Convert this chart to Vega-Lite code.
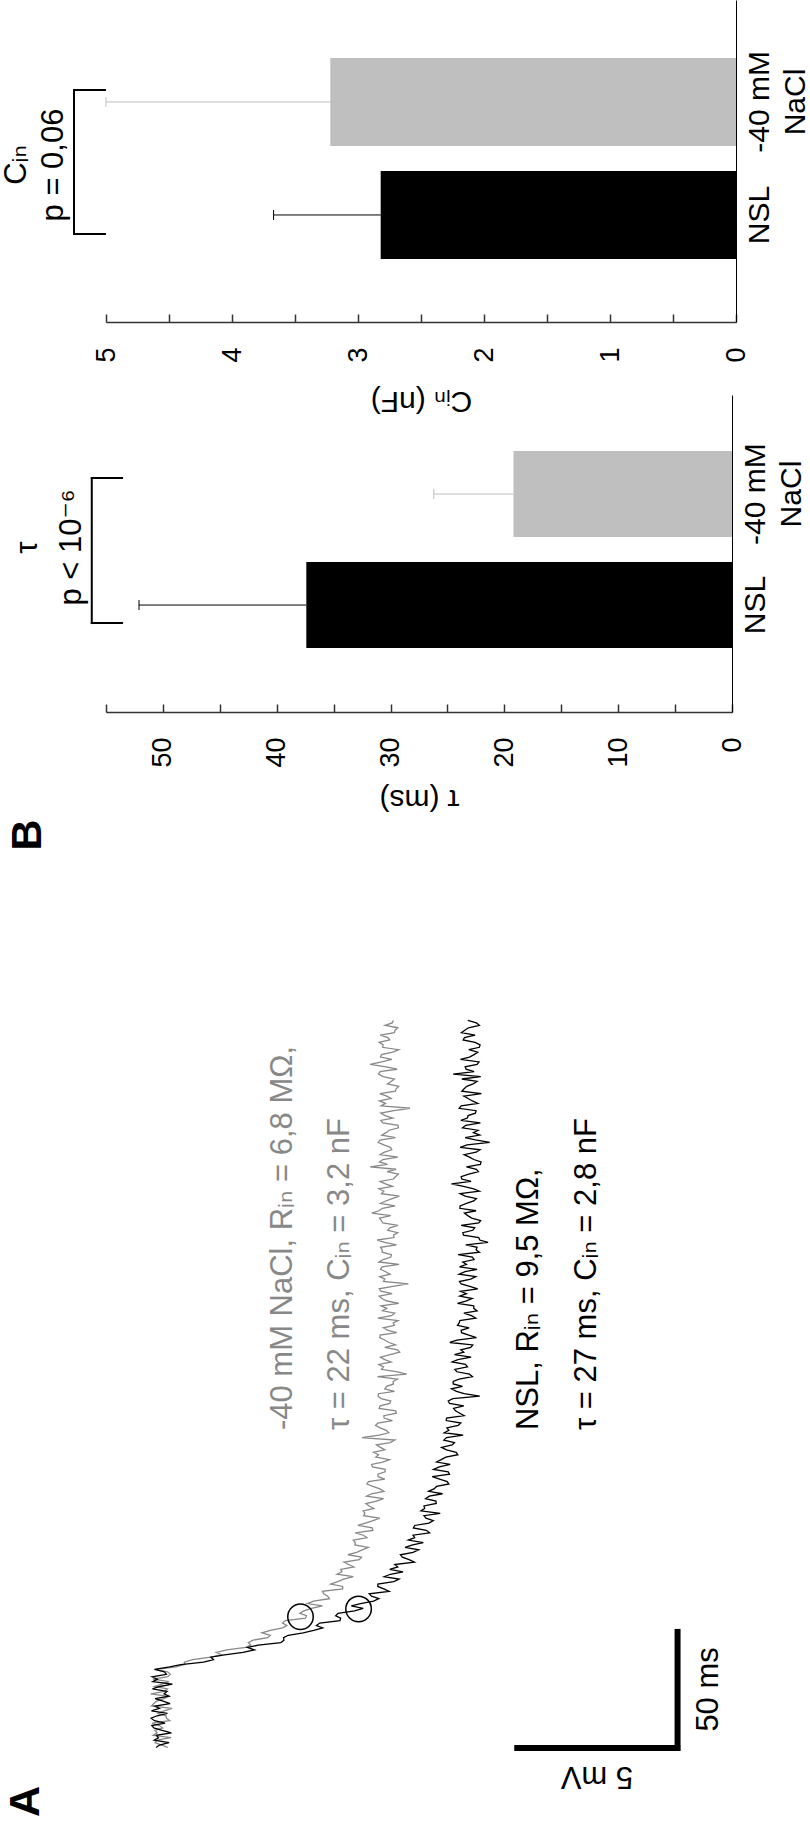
{
  "$schema": "https://vega.github.io/schema/vega-lite/v6.json",
  "background": "white",
  "padding": {"left": 0, "top": 0, "right": 0, "bottom": 0},
  "bounds": "flush",
  "spacing": 73,
  "config": {"view": {"stroke": null}, "font": "Liberation Sans", "axis": {"grid": false}},
  "datasets": {
    "traces": [
      {"t":-32,"g":0.21,"b":-0.15},{"t":-31,"g":0.02,"b":-0.05},{"t":-30,"g":-0.18,"b":0.24},{"t":-29,"g":-0.12,"b":-0.21},
      {"t":-28,"g":0.30,"b":-0.08},{"t":-27,"g":-0.24,"b":-0.14},{"t":-26,"g":-0.12,"b":0.31},{"t":-25,"g":-0.19,"b":0.03},
      {"t":-24,"g":0.05,"b":-0.22},{"t":-23,"g":-0.06,"b":-0.28},{"t":-22,"g":-0.27,"b":0.12},{"t":-21,"g":0.26,"b":-0.20},
      {"t":-20,"g":0.16,"b":-0.30},{"t":-19,"g":0.15,"b":-0.12},{"t":-18,"g":-0.09,"b":0.19},{"t":-17,"g":0.09,"b":-0.29},
      {"t":-16,"g":0.33,"b":-0.05},{"t":-15,"g":-0.29,"b":-0.19},{"t":-14,"g":-0.22,"b":0.27},{"t":-13,"g":-0.13,"b":0.06},
      {"t":-12,"g":0.08,"b":-0.18},{"t":-11,"g":0.22,"b":0.24},{"t":-10,"g":-0.31,"b":0.09},{"t":-9,"g":0.10,"b":0.18},
      {"t":-8,"g":0.19,"b":-0.26},{"t":-7,"g":-0.20,"b":-0.04},{"t":-6,"g":0.02,"b":0.34},{"t":-5,"g":0.24,"b":-0.25},
      {"t":-4,"g":-0.25,"b":-0.11},{"t":-3,"g":0.20,"b":-0.27},{"t":-2,"g":0.28,"b":0.16},{"t":-1,"g":0.19,"b":0.10},
      {"t":0,"g":-0.14,"b":-0.20},{"t":1,"g":0.45,"b":0.26},{"t":2,"g":0.71,"b":0.59},{"t":3,"g":0.70,"b":1.28},
      {"t":4,"g":0.95,"b":1.58},{"t":5,"g":1.50,"b":1.50},{"t":6,"g":1.82,"b":1.91},{"t":7,"g":1.66,"b":2.47},
      {"t":8,"g":1.98,"b":2.81},{"t":9,"g":2.55,"b":2.60},{"t":10,"g":2.70,"b":2.93},{"t":11,"g":2.63,"b":3.61},
      {"t":12,"g":2.77,"b":3.70},{"t":13,"g":3.21,"b":3.69},{"t":14,"g":3.29,"b":3.83},{"t":15,"g":3.04,"b":4.28},
      {"t":16,"g":3.29,"b":4.60},{"t":17,"g":3.66,"b":4.87},{"t":18,"g":3.79,"b":4.68},{"t":19,"g":3.66,"b":4.78},
      {"t":20,"g":3.74,"b":5.39},{"t":21,"g":4.35,"b":5.41},{"t":22,"g":4.38,"b":5.26},{"t":23,"g":4.18,"b":5.33},
      {"t":24,"g":4.30,"b":5.83},{"t":25,"g":4.53,"b":6.09},{"t":26,"g":4.86,"b":5.73},{"t":27,"g":4.41,"b":6.01},
      {"t":28,"g":4.59,"b":6.40},{"t":29,"g":5.07,"b":6.56},{"t":30,"g":5.02,"b":6.34},{"t":31,"g":4.90,"b":6.27},
      {"t":32,"g":4.86,"b":6.87},{"t":33,"g":5.47,"b":6.71},{"t":34,"g":5.47,"b":6.53},{"t":35,"g":5.11,"b":6.53},
      {"t":36,"g":5.32,"b":7.01},{"t":37,"g":5.50,"b":7.17},{"t":38,"g":5.79,"b":6.72},{"t":39,"g":5.30,"b":6.91},
      {"t":40,"g":5.45,"b":7.29},{"t":41,"g":5.41,"b":6.89},{"t":42,"g":5.81,"b":7.13},{"t":43,"g":5.65,"b":7.04},
      {"t":44,"g":5.51,"b":7.63},{"t":45,"g":5.97,"b":7.47},{"t":46,"g":6.04,"b":7.27},{"t":47,"g":5.63,"b":7.21},
      {"t":48,"g":5.89,"b":7.59},{"t":49,"g":6.06,"b":7.76},{"t":50,"g":6.24,"b":7.35},{"t":51,"g":5.84,"b":7.58},
      {"t":52,"g":5.85,"b":7.90},{"t":53,"g":5.79,"b":7.45},{"t":54,"g":6.20,"b":7.64},{"t":55,"g":6.09,"b":7.59},
      {"t":56,"g":5.85,"b":8.09},{"t":57,"g":6.38,"b":7.99},{"t":58,"g":6.36,"b":7.60},{"t":59,"g":5.93,"b":7.64},
      {"t":60,"g":6.15,"b":8.07},{"t":61,"g":6.39,"b":8.20},{"t":62,"g":6.59,"b":7.98},{"t":63,"g":6.10,"b":7.92},
      {"t":64,"g":6.14,"b":8.41},{"t":65,"g":6.09,"b":7.83},{"t":66,"g":6.41,"b":7.94},{"t":67,"g":6.27,"b":7.92},
      {"t":68,"g":6.17,"b":8.29},{"t":69,"g":6.49,"b":8.28},{"t":70,"g":6.70,"b":7.97},{"t":71,"g":6.19,"b":8.08},
      {"t":72,"g":6.34,"b":8.48},{"t":73,"g":6.71,"b":8.06},{"t":74,"g":6.59,"b":8.22},{"t":75,"g":6.38,"b":8.30},
      {"t":76,"g":6.20,"b":8.67},{"t":77,"g":6.25,"b":8.62},{"t":78,"g":6.74,"b":8.39},{"t":79,"g":6.54,"b":8.17},
      {"t":80,"g":6.53,"b":8.69},{"t":81,"g":6.75,"b":8.65},{"t":82,"g":6.75,"b":8.21},{"t":83,"g":6.37,"b":8.38},
      {"t":84,"g":6.34,"b":8.71},{"t":85,"g":6.68,"b":8.30},{"t":86,"g":6.88,"b":8.44},{"t":87,"g":6.47,"b":8.58},
      {"t":88,"g":6.55,"b":8.94},{"t":89,"g":6.40,"b":8.89},{"t":90,"g":6.74,"b":8.60},{"t":91,"g":6.61,"b":8.45},
      {"t":92,"g":6.49,"b":8.77},{"t":93,"g":6.90,"b":8.84},{"t":94,"g":7.04,"b":8.52},{"t":95,"g":6.05,"b":8.60},
      {"t":96,"g":6.57,"b":9.10},{"t":97,"g":6.86,"b":8.53},{"t":98,"g":6.78,"b":8.67},{"t":99,"g":6.60,"b":8.61},
      {"t":100,"g":6.46,"b":8.95},{"t":101,"g":6.53,"b":9.03},{"t":102,"g":6.97,"b":8.59},{"t":103,"g":6.72,"b":8.60},
      {"t":104,"g":6.71,"b":9.13},{"t":105,"g":7.09,"b":9.00},{"t":106,"g":7.07,"b":8.87},{"t":107,"g":6.57,"b":8.81},
      {"t":108,"g":6.60,"b":9.12},{"t":109,"g":6.89,"b":8.69},{"t":110,"g":6.92,"b":8.65},{"t":111,"g":6.63,"b":8.79},
      {"t":112,"g":6.54,"b":9.60},{"t":113,"g":6.55,"b":9.13},{"t":114,"g":7.03,"b":8.90},{"t":115,"g":6.74,"b":8.75},
      {"t":116,"g":6.80,"b":9.08},{"t":117,"g":7.00,"b":8.80},{"t":118,"g":6.99,"b":8.80},{"t":119,"g":7.12,"b":8.98},
      {"t":120,"g":6.52,"b":9.38},{"t":121,"g":7.40,"b":9.29},{"t":122,"g":7.12,"b":8.91},{"t":123,"g":6.64,"b":8.85},
      {"t":124,"g":6.70,"b":9.23},{"t":125,"g":6.56,"b":9.17},{"t":126,"g":6.93,"b":8.77},{"t":127,"g":6.74,"b":8.94},
      {"t":128,"g":6.61,"b":9.34},{"t":129,"g":6.90,"b":8.84},{"t":130,"g":7.19,"b":9.12},{"t":131,"g":7.12,"b":9.03},
      {"t":132,"g":6.74,"b":9.33},{"t":133,"g":7.06,"b":9.39},{"t":134,"g":6.87,"b":8.70},{"t":135,"g":6.73,"b":8.91},
      {"t":136,"g":6.59,"b":9.50},{"t":137,"g":6.60,"b":9.27},{"t":138,"g":7.10,"b":9.05},{"t":139,"g":6.84,"b":9.04},
      {"t":140,"g":6.70,"b":9.28},{"t":141,"g":7.03,"b":8.93},{"t":142,"g":6.99,"b":8.98},{"t":143,"g":7.14,"b":9.00},
      {"t":144,"g":6.53,"b":9.48},{"t":145,"g":6.94,"b":9.35},{"t":146,"g":7.04,"b":9.12},{"t":147,"g":6.67,"b":9.52},
      {"t":148,"g":6.80,"b":9.42},{"t":149,"g":6.63,"b":9.42},{"t":150,"g":7.16,"b":8.93},{"t":151,"g":6.81,"b":9.18},
      {"t":152,"g":6.65,"b":9.37},{"t":153,"g":6.57,"b":9.00},{"t":154,"g":6.96,"b":9.20},{"t":155,"g":6.62,"b":9.02},
      {"t":156,"g":6.57,"b":9.54},{"t":157,"g":6.98,"b":9.30},{"t":158,"g":7.45,"b":9.04},{"t":159,"g":6.70,"b":8.99},
      {"t":160,"g":6.74,"b":9.33},{"t":161,"g":6.59,"b":9.48},{"t":162,"g":6.90,"b":8.98},{"t":163,"g":6.77,"b":9.16},
      {"t":164,"g":6.61,"b":9.52},{"t":165,"g":6.66,"b":8.99},{"t":166,"g":7.17,"b":9.20},{"t":167,"g":6.56,"b":9.09},
      {"t":168,"g":6.69,"b":9.43},{"t":169,"g":6.92,"b":9.38},{"t":170,"g":6.94,"b":8.95},{"t":171,"g":6.66,"b":9.59},
      {"t":172,"g":6.66,"b":9.49},{"t":173,"g":6.61,"b":9.52},{"t":174,"g":7.09,"b":9.18},{"t":175,"g":6.74,"b":9.85},
      {"t":176,"g":6.51,"b":9.60},{"t":177,"g":7.02,"b":9.57},{"t":178,"g":7.00,"b":9.11},{"t":179,"g":7.13,"b":9.09},
      {"t":180,"g":6.83,"b":9.39},{"t":181,"g":6.89,"b":9.45},{"t":182,"g":7.14,"b":9.04},{"t":183,"g":6.68,"b":9.57},
      {"t":184,"g":6.64,"b":9.63},{"t":185,"g":6.58,"b":9.36},{"t":186,"g":6.92,"b":9.24},{"t":187,"g":6.35,"b":9.14},
      {"t":188,"g":6.56,"b":9.49},{"t":189,"g":6.67,"b":9.00},{"t":190,"g":7.05,"b":9.01},{"t":191,"g":6.61,"b":9.20},
      {"t":192,"g":6.77,"b":9.42},{"t":193,"g":6.96,"b":9.50},{"t":194,"g":7.18,"b":9.16},{"t":195,"g":6.64,"b":9.01},
      {"t":196,"g":6.71,"b":9.59},{"t":197,"g":6.56,"b":9.42},{"t":198,"g":6.97,"b":9.11},{"t":199,"g":6.76,"b":8.75},
      {"t":200,"g":6.60,"b":9.34},{"t":201,"g":7.00,"b":9.06},{"t":202,"g":7.07,"b":9.04},{"t":203,"g":7.15,"b":9.27},
      {"t":204,"g":6.81,"b":9.56},{"t":205,"g":7.08,"b":9.50},{"t":206,"g":6.30,"b":9.20},{"t":207,"g":6.82,"b":9.62},
      {"t":208,"g":6.58,"b":9.64},{"t":209,"g":6.68,"b":9.42},{"t":210,"g":7.13,"b":9.29},{"t":211,"g":6.60,"b":9.13},
      {"t":212,"g":6.73,"b":9.49},{"t":213,"g":6.95,"b":9.61},{"t":214,"g":6.91,"b":9.01},{"t":215,"g":6.71,"b":9.22},
      {"t":216,"g":6.54,"b":9.90},{"t":217,"g":6.59,"b":9.47},{"t":218,"g":7.06,"b":9.16},{"t":219,"g":6.65,"b":9.60},
      {"t":220,"g":6.78,"b":9.41},{"t":221,"g":6.87,"b":9.55},{"t":222,"g":7.15,"b":9.08},{"t":223,"g":7.14,"b":9.18},
      {"t":224,"g":6.68,"b":9.62},{"t":225,"g":6.62,"b":9.03},{"t":226,"g":6.98,"b":9.23},{"t":227,"g":6.75,"b":9.25},
      {"t":228,"g":6.62,"b":9.47},{"t":229,"g":7.01,"b":9.49},{"t":230,"g":7.50,"b":8.98},{"t":231,"g":6.63,"b":9.04},
      {"t":232,"g":6.76,"b":9.54},{"t":233,"g":6.58,"b":9.38},{"t":234,"g":6.93,"b":9.25},{"t":235,"g":6.80,"b":9.12},
      {"t":236,"g":6.59,"b":9.65},{"t":237,"g":7.06,"b":9.06},{"t":238,"g":7.08,"b":9.13},{"t":239,"g":7.16,"b":9.21},
      {"t":240,"g":6.82,"b":9.40},{"t":241,"g":6.93,"b":9.52},{"t":242,"g":7.03,"b":9.06},{"t":243,"g":6.69,"b":9.63},
      {"t":244,"g":6.55,"b":8.80},{"t":245,"g":6.60,"b":9.43},{"t":246,"g":7.11,"b":9.19},{"t":247,"g":6.78,"b":9.16},
      {"t":248,"g":6.30,"b":9.52},{"t":249,"g":6.65,"b":9.58},{"t":250,"g":6.95,"b":9.02},{"t":251,"g":6.61,"b":9.29},
      {"t":252,"g":6.64,"b":9.43},{"t":253,"g":6.98,"b":9.54},{"t":254,"g":7.16,"b":9.27},{"t":255,"g":6.67,"b":9.59},
      {"t":256,"g":6.69,"b":9.61},{"t":257,"g":6.57,"b":9.46},{"t":258,"g":6.89,"b":9.10},{"t":259,"g":6.83,"b":9.14},
      {"t":260,"g":6.60,"b":9.46},{"t":261,"g":7.03,"b":9.05},{"t":262,"g":7.05,"b":9.15},{"t":263,"g":7.13,"b":9.26},
      {"t":264,"g":6.75,"b":9.59},{"t":265,"g":6.96,"b":9.50},{"t":266,"g":7.00,"b":9.24}
    ]
  },
  "vconcat": [
    {
      "width": 630,
      "height": 322,
      "data": {"values": [
        {"cond": "NSL", "mean": 2.82, "hi": 3.67},
        {"cond": "-40 mM NaCl", "mean": 3.22, "hi": 5.0}
      ]},
      "layer": [
        {
          "mark": {"type": "bar"},
          "encoding": {
            "x": {"field": "mean", "type": "quantitative", "stack": null,
              "scale": {"domain": [0, 5], "reverse": true, "nice": false, "zero": false},
              "axis": {"orient": "bottom", "values": [0, 0.5, 1, 1.5, 2, 2.5, 3, 3.5, 4, 4.5, 5],
                "labelExpr": "datum.value % 1 == 0 ? format(datum.value, 'd') : ''",
                "tickSize": -8, "tickWidth": 1.5, "tickColor": "#333333",
                "domainColor": "#333333", "domainWidth": 1.5,
                "labelAngle": 270, "labelAlign": "right", "labelBaseline": "middle", "labelPadding": 33,
                "labelFontSize": 27, "labelColor": "black", "labelOverlap": false, "labelFlush": false,
                "title": "Cᵢₙ (nF)", "titleAngle": 180, "titleBaseline": "alphabetic", "titleAlign": "center",
                "titleY": 69, "titleFontSize": 30, "titleFontWeight": "normal", "titleColor": "black",
                "titleFont": "Liberation Sans, DejaVu Sans"}},
            "y": {"field": "cond", "type": "nominal", "sort": null,
              "scale": {"domain": ["-40 mM NaCl", "NSL"], "paddingInner": 0.221, "paddingOuter": 0.535, "align": 0.479},
              "axis": {"orient": "right", "title": null, "ticks": false, "tickSize": 0,
                "domainColor": "black", "domainWidth": 1,
                "labelAngle": 270, "labelAlign": "center", "labelBaseline": "top", "labelPadding": 8,
                "labelFontSize": 30, "labelLineHeight": 36, "labelColor": "black",
                "labelExpr": "datum.value == 'NSL' ? 'NSL' : ['-40 mM', 'NaCl']"}},
            "color": {"field": "cond", "type": "nominal",
              "scale": {"domain": ["NSL", "-40 mM NaCl"], "range": ["#000000", "#bfbfbf"]}, "legend": null}
          }
        },
        {
          "mark": {"type": "rule", "strokeWidth": 1},
          "encoding": {
            "x": {"field": "mean", "type": "quantitative", "scale": {"domain": [0, 5], "reverse": true, "nice": false, "zero": false}},
            "x2": {"field": "hi"},
            "y": {"field": "cond", "type": "nominal"},
            "color": {"field": "cond", "type": "nominal", "legend": null}
          }
        },
        {
          "mark": {"type": "tick", "thickness": 1, "size": 10, "opacity": 1},
          "encoding": {
            "x": {"field": "hi", "type": "quantitative", "scale": {"domain": [0, 5], "reverse": true, "nice": false, "zero": false}},
            "y": {"field": "cond", "type": "nominal"},
            "color": {"field": "cond", "type": "nominal", "legend": null}
          }
        },
        {
          "data": {"values": [{"v": 5.254, "cond": "-40 mM NaCl", "cond2": "NSL"}]},
          "mark": {"type": "rule", "strokeWidth": 2, "color": "black", "yOffset": -12, "y2Offset": 19, "strokeCap": "square"},
          "encoding": {
            "x": {"field": "v", "type": "quantitative", "scale": {"domain": [0, 5], "reverse": true, "nice": false, "zero": false}},
            "y": {"field": "cond", "type": "nominal"},
            "y2": {"field": "cond2"}
          }
        },
        {
          "data": {"values": [{"v1": 5.008, "v2": 5.254, "cond": "-40 mM NaCl"}]},
          "mark": {"type": "rule", "strokeWidth": 2, "color": "black", "yOffset": -12, "strokeCap": "square"},
          "encoding": {
            "x": {"field": "v1", "type": "quantitative", "scale": {"domain": [0, 5], "reverse": true, "nice": false, "zero": false}},
            "x2": {"field": "v2"},
            "y": {"field": "cond", "type": "nominal"}
          }
        },
        {
          "data": {"values": [{"v1": 5.008, "v2": 5.254, "cond": "NSL"}]},
          "mark": {"type": "rule", "strokeWidth": 2, "color": "black", "yOffset": 19, "strokeCap": "square"},
          "encoding": {
            "x": {"field": "v1", "type": "quantitative", "scale": {"domain": [0, 5], "reverse": true, "nice": false, "zero": false}},
            "x2": {"field": "v2"},
            "y": {"field": "cond", "type": "nominal"}
          }
        },
        {
          "data": {"values": [{"v": 5.635, "label": "Cᵢₙ"}, {"v": 5.341, "label": "p = 0,06"}]},
          "mark": {"type": "text", "angle": 270, "align": "center", "baseline": "alphabetic", "fontSize": 31,
            "font": "Liberation Sans, DejaVu Sans", "color": "black", "yOffset": 4},
          "encoding": {
            "x": {"field": "v", "type": "quantitative", "scale": {"domain": [0, 5], "reverse": true, "nice": false, "zero": false}},
            "text": {"field": "label"}
          }
        }
      ]
    },
    {
      "width": 626,
      "height": 317,
      "data": {"values": [
        {"cond": "NSL", "mean": 37.4, "hi": 52.1},
        {"cond": "-40 mM NaCl", "mean": 19.2, "hi": 26.2}
      ]},
      "layer": [
        {
          "mark": {"type": "bar"},
          "encoding": {
            "x": {"field": "mean", "type": "quantitative", "stack": null,
              "scale": {"domain": [0, 55], "reverse": true, "nice": false, "zero": false},
              "axis": {"orient": "bottom", "values": [0, 5, 10, 15, 20, 25, 30, 35, 40, 45, 50, 55],
                "labelExpr": "datum.value % 10 == 0 ? format(datum.value, 'd') : ''",
                "tickSize": -8, "tickWidth": 1.5, "tickColor": "#333333",
                "domainColor": "#333333", "domainWidth": 1.5,
                "labelAngle": 270, "labelAlign": "right", "labelBaseline": "middle", "labelPadding": 33,
                "labelFontSize": 27, "labelColor": "black", "labelOverlap": false, "labelFlush": false,
                "title": "τ (ms)", "titleAngle": 180, "titleBaseline": "alphabetic", "titleAlign": "center",
                "titleY": 77, "titleFontSize": 30, "titleFontWeight": "normal", "titleColor": "black",
                "titleFont": "Liberation Sans, DejaVu Sans"}},
            "y": {"field": "cond", "type": "nominal", "sort": null,
              "scale": {"domain": ["-40 mM NaCl", "NSL"], "paddingInner": 0.2252, "paddingOuter": 0.5405, "align": 0.467},
              "axis": {"orient": "right", "title": null, "ticks": false, "tickSize": 0,
                "domainColor": "black", "domainWidth": 1,
                "labelAngle": 270, "labelAlign": "center", "labelBaseline": "top", "labelPadding": 8,
                "labelFontSize": 30, "labelLineHeight": 36, "labelColor": "black",
                "labelExpr": "datum.value == 'NSL' ? 'NSL' : ['-40 mM', 'NaCl']"}},
            "color": {"field": "cond", "type": "nominal",
              "scale": {"domain": ["NSL", "-40 mM NaCl"], "range": ["#000000", "#bfbfbf"]}, "legend": null}
          }
        },
        {
          "mark": {"type": "rule", "strokeWidth": 1},
          "encoding": {
            "x": {"field": "mean", "type": "quantitative", "scale": {"domain": [0, 55], "reverse": true, "nice": false, "zero": false}},
            "x2": {"field": "hi"},
            "y": {"field": "cond", "type": "nominal"},
            "color": {"field": "cond", "type": "nominal", "legend": null}
          }
        },
        {
          "mark": {"type": "tick", "thickness": 1, "size": 10, "opacity": 1},
          "encoding": {
            "x": {"field": "hi", "type": "quantitative", "scale": {"domain": [0, 55], "reverse": true, "nice": false, "zero": false}},
            "y": {"field": "cond", "type": "nominal"},
            "color": {"field": "cond", "type": "nominal", "legend": null}
          }
        },
        {
          "data": {"values": [{"v": 56.25, "cond": "-40 mM NaCl", "cond2": "NSL"}]},
          "mark": {"type": "rule", "strokeWidth": 2, "color": "black", "yOffset": -16, "y2Offset": 18, "strokeCap": "square"},
          "encoding": {
            "x": {"field": "v", "type": "quantitative", "scale": {"domain": [0, 55], "reverse": true, "nice": false, "zero": false}},
            "y": {"field": "cond", "type": "nominal"},
            "y2": {"field": "cond2"}
          }
        },
        {
          "data": {"values": [{"v1": 53.59, "v2": 56.25, "cond": "-40 mM NaCl"}]},
          "mark": {"type": "rule", "strokeWidth": 2, "color": "black", "yOffset": -16, "strokeCap": "square"},
          "encoding": {
            "x": {"field": "v1", "type": "quantitative", "scale": {"domain": [0, 55], "reverse": true, "nice": false, "zero": false}},
            "x2": {"field": "v2"},
            "y": {"field": "cond", "type": "nominal"}
          }
        },
        {
          "data": {"values": [{"v1": 53.59, "v2": 56.25, "cond": "NSL"}]},
          "mark": {"type": "rule", "strokeWidth": 2, "color": "black", "yOffset": 18, "strokeCap": "square"},
          "encoding": {
            "x": {"field": "v1", "type": "quantitative", "scale": {"domain": [0, 55], "reverse": true, "nice": false, "zero": false}},
            "x2": {"field": "v2"},
            "y": {"field": "cond", "type": "nominal"}
          }
        },
        {
          "data": {"values": [{"v": 61.06, "label": "τ"}, {"v": 57.2, "label": "p < 10⁻⁶"}]},
          "mark": {"type": "text", "angle": 270, "align": "center", "baseline": "alphabetic", "fontSize": 31,
            "font": "Liberation Sans, DejaVu Sans", "color": "black", "yOffset": -6},
          "encoding": {
            "x": {"field": "v", "type": "quantitative", "scale": {"domain": [0, 55], "reverse": true, "nice": false, "zero": false}},
            "text": {"field": "label"}
          }
        }
      ]
    },
    {
      "width": 703,
      "height": 1043,
      "layer": [
        {
          "data": {"name": "traces"},
          "mark": {"type": "line", "color": "#888888", "strokeWidth": 1.3},
          "encoding": {
            "x": {"field": "g", "type": "quantitative", "scale": {"domain": [-1.66, 19.52], "nice": false, "zero": false}, "axis": null},
            "y": {"field": "t", "type": "quantitative", "scale": {"domain": [-65, 362.5], "nice": false, "zero": false}, "axis": null},
            "order": {"field": "t", "type": "quantitative"}
          }
        },
        {
          "data": {"name": "traces"},
          "mark": {"type": "line", "color": "#000000", "strokeWidth": 1.3},
          "encoding": {
            "x": {"field": "b", "type": "quantitative", "scale": {"domain": [-1.66, 19.52], "nice": false, "zero": false}, "axis": null},
            "y": {"field": "t", "type": "quantitative", "scale": {"domain": [-65, 362.5], "nice": false, "zero": false}, "axis": null},
            "order": {"field": "t", "type": "quantitative"}
          }
        },
        {
          "data": {"values": [{"t": 21.6, "dv": 4.2}, {"t": 24.8, "dv": 5.95}]},
          "mark": {"type": "point", "shape": "circle", "filled": false, "stroke": "#000000", "strokeWidth": 1.5, "size": 650, "opacity": 1},
          "encoding": {
            "x": {"field": "dv", "type": "quantitative", "scale": {"domain": [-1.66, 19.52], "nice": false, "zero": false}, "axis": null},
            "y": {"field": "t", "type": "quantitative", "scale": {"domain": [-65, 362.5], "nice": false, "zero": false}, "axis": null}
          }
        },
        {
          "data": {"values": [
            {"x1": 10.64, "x2": 15.64, "y1": -32.2, "y2": -32.2},
            {"x1": 15.56, "x2": 15.56, "y1": -33.4, "y2": 16.6}
          ]},
          "mark": {"type": "rule", "strokeWidth": 6, "color": "#000000"},
          "encoding": {
            "x": {"field": "x1", "type": "quantitative", "scale": {"domain": [-1.66, 19.52], "nice": false, "zero": false}, "axis": null},
            "x2": {"field": "x2"},
            "y": {"field": "y1", "type": "quantitative", "scale": {"domain": [-65, 362.5], "nice": false, "zero": false}, "axis": null},
            "y2": {"field": "y2"}
          }
        },
        {
          "data": {"values": [{"dv": 13.13, "t": -40.0, "label": "5 mV"}]},
          "mark": {"type": "text", "angle": 180, "align": "center", "baseline": "alphabetic", "fontSize": 31,
            "font": "Liberation Sans, DejaVu Sans", "color": "#000000"},
          "encoding": {
            "x": {"field": "dv", "type": "quantitative", "scale": {"domain": [-1.66, 19.52], "nice": false, "zero": false}, "axis": null},
            "y": {"field": "t", "type": "quantitative", "scale": {"domain": [-65, 362.5], "nice": false, "zero": false}, "axis": null},
            "text": {"field": "label"}
          }
        },
        {
          "data": {"values": [{"dv": 16.78, "t": -8.2, "label": "50 ms"}]},
          "mark": {"type": "text", "angle": 270, "align": "center", "baseline": "alphabetic", "fontSize": 31,
            "font": "Liberation Sans, DejaVu Sans", "color": "#000000"},
          "encoding": {
            "x": {"field": "dv", "type": "quantitative", "scale": {"domain": [-1.66, 19.52], "nice": false, "zero": false}, "axis": null},
            "y": {"field": "t", "type": "quantitative", "scale": {"domain": [-65, 362.5], "nice": false, "zero": false}, "axis": null},
            "text": {"field": "label"}
          }
        },
        {
          "data": {"values": [
            {"dv": 3.936, "t": 98.1, "label": "-40 mM NaCl, Rᵢₙ = 6,8 MΩ,"},
            {"dv": 5.65, "t": 98.1, "label": "τ = 22 ms, Cᵢₙ = 3,2 nF"}
          ]},
          "mark": {"type": "text", "angle": 270, "align": "left", "baseline": "alphabetic", "fontSize": 31,
            "font": "Liberation Sans, DejaVu Sans", "color": "#888888"},
          "encoding": {
            "x": {"field": "dv", "type": "quantitative", "scale": {"domain": [-1.66, 19.52], "nice": false, "zero": false}, "axis": null},
            "y": {"field": "t", "type": "quantitative", "scale": {"domain": [-65, 362.5], "nice": false, "zero": false}, "axis": null},
            "text": {"field": "label"}
          }
        },
        {
          "data": {"values": [
            {"dv": 11.37, "t": 98.1, "label": "NSL, Rᵢₙ = 9,5 MΩ,"},
            {"dv": 13.11, "t": 98.1, "label": "τ = 27 ms, Cᵢₙ = 2,8 nF"}
          ]},
          "mark": {"type": "text", "angle": 270, "align": "left", "baseline": "alphabetic", "fontSize": 31,
            "font": "Liberation Sans, DejaVu Sans", "color": "#000000"},
          "encoding": {
            "x": {"field": "dv", "type": "quantitative", "scale": {"domain": [-1.66, 19.52], "nice": false, "zero": false}, "axis": null},
            "y": {"field": "t", "type": "quantitative", "scale": {"domain": [-65, 362.5], "nice": false, "zero": false}, "axis": null},
            "text": {"field": "label"}
          }
        },
        {
          "data": {"values": [{"dv": -3.616, "t": 342.0, "label": "B"}, {"dv": -3.676, "t": -54.1, "label": "A"}]},
          "mark": {"type": "text", "angle": 270, "align": "center", "baseline": "alphabetic", "fontSize": 43,
            "fontWeight": "bold", "font": "Liberation Sans", "color": "#000000"},
          "encoding": {
            "x": {"field": "dv", "type": "quantitative", "scale": {"domain": [-1.66, 19.52], "nice": false, "zero": false}, "axis": null},
            "y": {"field": "t", "type": "quantitative", "scale": {"domain": [-65, 362.5], "nice": false, "zero": false}, "axis": null},
            "text": {"field": "label"}
          }
        }
      ]
    }
  ]
}
